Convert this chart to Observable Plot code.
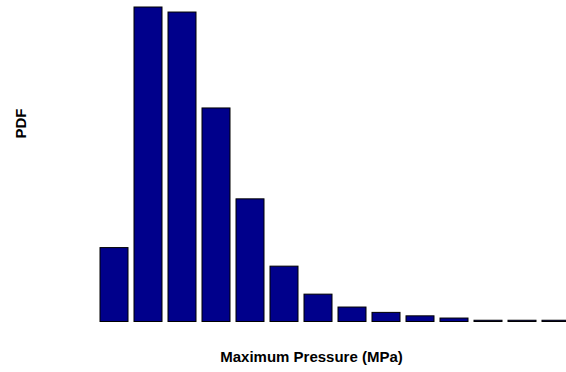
<!DOCTYPE html>
<html>
<head>
<meta charset="utf-8">
<script src="https://cdn.jsdelivr.net/npm/d3@7"></script>
<script src="https://cdn.jsdelivr.net/npm/@observablehq/plot@0.6"></script>
<style>
  html, body { margin: 0; padding: 0; background: white; }
</style>
</head>
<body>
<div id="chart"></div>
<script>
const bins = ["1","2","3","4","5","6","7","8","9","10","11","12","13","14"];
const pdf = [0.235, 1.0, 0.984, 0.679, 0.390, 0.176, 0.087, 0.046, 0.029, 0.018, 0.011, 0.004, 0.004, 0.004];
const xLabel = "Maximum Pressure (MPa)";
const yLabel = "PDF";

const data = bins.map((b, i) => ({bin: b, pdf: pdf[i]}));

const chart = Plot.plot({
  width: 566,
  height: 372,
  marginLeft: 0, marginRight: 0, marginTop: 0, marginBottom: 0,
  style: {fontFamily: "'Liberation Sans', Arial, sans-serif", background: "white"},
  x: {type: "band", domain: bins, range: [99, 571], paddingInner: 0.165, paddingOuter: 0, axis: null},
  y: {domain: [0, 1], range: [321.5, 7], axis: null},
  marks: [
    Plot.barY(data, {x: "bin", y: "pdf", fill: "#00008b", stroke: "black", strokeWidth: 1}),
    Plot.text([xLabel], {text: d => d, frameAnchor: "bottom", dx: 28, dy: -15, lineAnchor: "middle", fontSize: 15, fontWeight: "bold", fill: "black"}),
    Plot.text([yLabel], {text: d => d, frameAnchor: "left", dx: 20.5, dy: -48, rotate: -90, lineAnchor: "middle", fontSize: 15, fontWeight: "bold", fill: "black"})
  ]
});
document.getElementById("chart").append(chart);
</script>
</body>
</html>
